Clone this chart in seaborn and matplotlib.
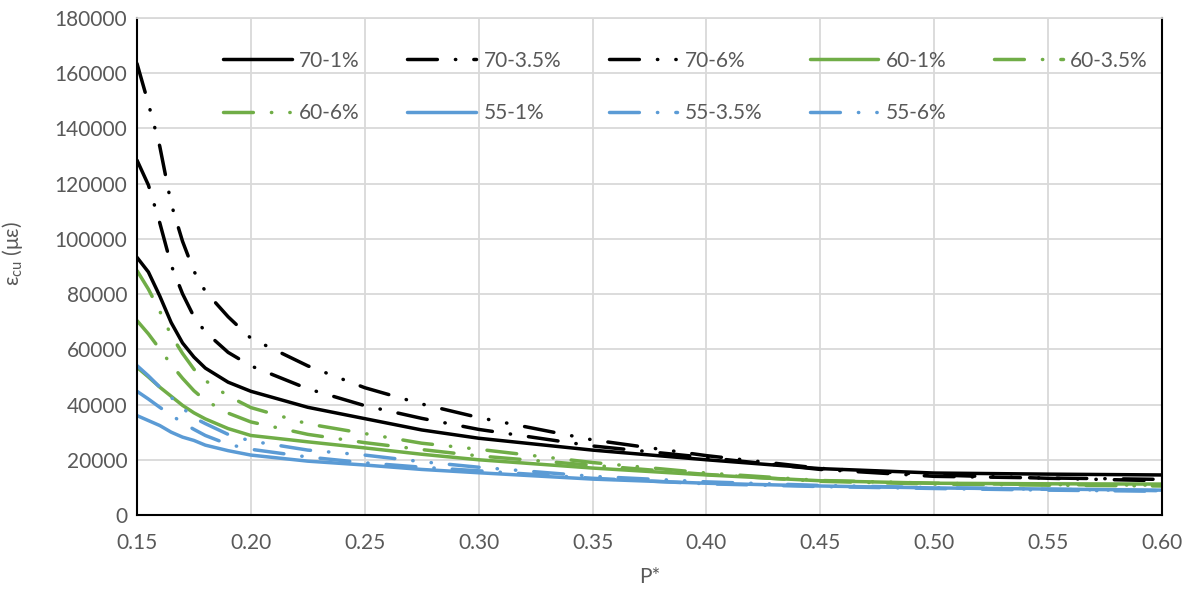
"""
plot.py

Ultimate strain of confined concrete against axial load ratio P*,
one curve per concrete grade / confinement ratio combination.
"""

import matplotlib

matplotlib.use("Agg")
import pandas as pd
import matplotlib.pyplot as plt
import seaborn as sns

# Figure settings
FIG_DPI = 100
FIG_SIZE = (11.9, 5.89)
TICK_FONTSIZE = 15
LABEL_FONTSIZE = 15
LEGEND_FONTSIZE = 15
TEXT_COLOR = "#595959"
GRID_COLOR = "#d9d9d9"
LINE_WIDTH = 2.5

# Data
P_STAR = [0.15, 0.155, 0.16, 0.165, 0.17, 0.175, 0.18, 0.19, 0.20, 0.225,
          0.25, 0.275, 0.30, 0.35, 0.40, 0.45, 0.50, 0.55, 0.60]

SERIES = ["70-1%", "70-3.5%", "70-6%", "60-1%", "60-3.5%",
          "60-6%", "55-1%", "55-3.5%", "55-6%"]

S70_1 = [93300, 88000, 79300, 69700, 62300, 57200, 53200, 48100, 44800, 39000,
         34900, 30800, 27800, 23500, 20000, 16800, 15200, 14800, 14500]
S70_35 = [128500, 119500, 105800, 90500, 80100, 71800, 66300, 58900, 54000, 45700,
          39600, 35000, 31000, 25000, 20800, 16500, 14000, 13400, 12900]
S70_6 = [163500, 149000, 133500, 112700, 99100, 88300, 81000, 71800, 64000, 54000,
         46100, 40200, 35300, 27200, 21500, 16900, 14500, 13300, 12400]
S60_1 = [53500, 50000, 46300, 43000, 39700, 37000, 34800, 31300, 28800, 26500,
         24300, 22000, 20000, 17000, 14500, 12400, 11500, 11300, 11200]
S60_35 = [70400, 65600, 60100, 54500, 49500, 45000, 41500, 36900, 33700, 29200,
          26200, 23700, 21400, 18000, 14700, 12200, 11200, 10800, 10500]
S60_6 = [88500, 81800, 73800, 65100, 58500, 52800, 48700, 43100, 38900, 33000,
         29500, 26000, 23800, 19000, 15200, 12500, 11500, 11000, 10800]
S55_1 = [36000, 34200, 32400, 30000, 28200, 27000, 25300, 23300, 21700, 19500,
         18100, 16500, 15300, 13000, 11500, 10500, 9800, 9400, 9000]
S55_35 = [44800, 42000, 39000, 36200, 33400, 31000, 28800, 25600, 23800, 21000,
          18900, 17300, 16000, 13300, 11300, 10300, 9600, 9000, 8600]
S55_6 = [54100, 50400, 46300, 42600, 38800, 35200, 33100, 29200, 26800, 23500,
         21700, 19300, 17300, 14000, 12000, 10700, 9900, 9300, 8800]

Y_TICKS = list(range(0, 180001, 20000))
X_TICKS = [0.15, 0.20, 0.25, 0.30, 0.35, 0.40, 0.45, 0.50, 0.55, 0.60]

# Styles
BLACK = "#000000"
GREEN = "#70ad47"
BLUE = "#5b9bd5"
COLORS = {
    "70-1%": BLACK, "70-3.5%": BLACK, "70-6%": BLACK,
    "60-1%": GREEN, "60-3.5%": GREEN, "60-6%": GREEN,
    "55-1%": BLUE, "55-3.5%": BLUE, "55-6%": BLUE,
}
# dash patterns in units of line width (round caps add one width per segment)
SOLID = ""
DASH_DOT = (8.6, 5.2, 0.1, 5.2)
DASH_DOT_DOT = (8.6, 5.2, 0.1, 5.2, 0.1, 5.2)
DASHES = {
    "70-1%": SOLID, "70-3.5%": DASH_DOT, "70-6%": DASH_DOT_DOT,
    "60-1%": SOLID, "60-3.5%": DASH_DOT, "60-6%": DASH_DOT_DOT,
    "55-1%": SOLID, "55-3.5%": DASH_DOT, "55-6%": DASH_DOT_DOT,
}


def build_frame():
    values = [S70_1, S70_35, S70_6, S60_1, S60_35, S60_6, S55_1, S55_35, S55_6]
    frames = []
    for name, vals in zip(SERIES, values):
        frames.append(pd.DataFrame({"P*": P_STAR, "strain": vals, "series": name}))
    return pd.concat(frames, ignore_index=True)


def main():
    sns.set_style("white")
    plt.rcParams["font.family"] = ["Lato", "DejaVu Sans"]
    plt.rcParams["lines.dash_capstyle"] = "round"
    plt.rcParams["lines.solid_capstyle"] = "round"
    plt.rcParams["lines.solid_joinstyle"] = "round"

    df = build_frame()

    fig = plt.figure(figsize=FIG_SIZE, dpi=FIG_DPI)
    ax = fig.add_axes([137 / 1190, 74 / 589, 1025 / 1190, 497 / 589])

    sns.lineplot(
        data=df,
        x="P*",
        y="strain",
        hue="series",
        style="series",
        hue_order=SERIES,
        style_order=SERIES,
        palette=COLORS,
        dashes=DASHES,
        linewidth=LINE_WIDTH,
        sort=False,
        legend=False,
        ax=ax,
    )

    # Axes limits, ticks and grid
    ax.set_xlim(0.15, 0.60)
    ax.set_ylim(0, 180000)
    ax.set_xticks(X_TICKS)
    ax.set_xticklabels([f"{t:.2f}" for t in X_TICKS])
    ax.set_yticks(Y_TICKS)
    ax.set_yticklabels([str(t) for t in Y_TICKS])
    ax.grid(True, color=GRID_COLOR, linewidth=1.3)
    ax.set_axisbelow(True)
    ax.tick_params(axis="both", length=0, labelsize=TICK_FONTSIZE, labelcolor=TEXT_COLOR)
    ax.tick_params(axis="x", pad=13)
    ax.tick_params(axis="y", pad=7)

    for side in ["left", "bottom", "right"]:
        ax.spines[side].set_color(BLACK)
        ax.spines[side].set_linewidth(1.5)
    ax.spines["top"].set_color(GRID_COLOR)
    ax.spines["top"].set_linewidth(1.3)

    # Labels
    ax.set_xlabel("P*", fontsize=LABEL_FONTSIZE, color=TEXT_COLOR)
    ax.set_ylabel(r"ε$_{\mathregular{cu}}$ (με)", fontsize=LABEL_FONTSIZE, color=TEXT_COLOR)
    ax.xaxis.set_label_coords(0.5, -0.104)
    ax.yaxis.set_label_coords(-0.109, 0.527)

    # Legend, filled row by row (matplotlib fills columns first)
    lines = ax.get_lines()[: len(SERIES)]
    order = [0, 5, 1, 6, 2, 7, 3, 8, 4]
    leg = ax.legend(
        [lines[i] for i in order],
        [SERIES[i] for i in order],
        ncol=5,
        frameon=False,
        fontsize=LEGEND_FONTSIZE,
        handlelength=3.3,
        handletextpad=0.35,
        columnspacing=2.28,
        labelspacing=1.55,
        loc="upper left",
        bbox_to_anchor=(0.076, 0.951),
        borderaxespad=0,
    )
    for text in leg.get_texts():
        text.set_color(TEXT_COLOR)

    fig.savefig("out.png", dpi=FIG_DPI)


if __name__ == "__main__":
    main()
